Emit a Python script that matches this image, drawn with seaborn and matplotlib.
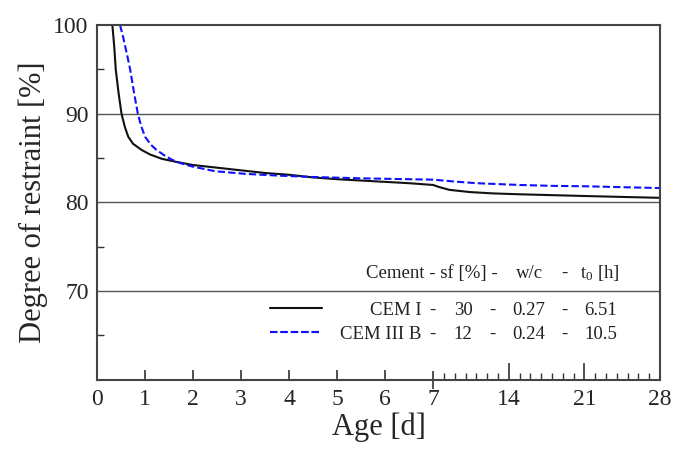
import numpy as np
import pandas as pd
import seaborn as sns
import matplotlib
matplotlib.use('Agg')
import matplotlib.pyplot as plt
from matplotlib.lines import Line2D

# data
age_cem1 = [0.32, 0.36, 0.39, 0.45, 0.51, 0.58, 0.65, 0.75, 0.93, 1.1, 1.35, 1.7,
            2.0, 2.5, 3.0, 3.5, 4.0, 4.5, 5.0, 5.5, 6.0, 6.5, 7.0, 7.6, 8.5, 10.4,
            12.5, 15.0, 18.0, 21.2, 24.5, 28.0]
restr_cem1 = [100, 97.5, 95, 92.3, 90, 88.5, 87.4, 86.6, 85.9, 85.4, 84.9, 84.5,
              84.2, 83.9, 83.6, 83.3, 83.1, 82.8, 82.6, 82.45, 82.3, 82.15, 81.95, 81.7, 81.4, 81.15,
              81.0, 80.9, 80.8, 80.7, 80.6, 80.5]
age_cem3 = [0.48, 0.55, 0.62, 0.69, 0.77, 0.85, 0.92, 1.0, 1.12, 1.24, 1.4, 1.56,
            1.75, 1.97, 2.46, 3.1, 3.8, 4.5, 5.5, 6.5, 7.0, 8.85, 11.0, 15.0, 18.0,
            21.2, 24.5, 28.0]
restr_cem3 = [100, 98.5, 96.8, 95, 92.4, 90, 88.6, 87.4, 86.5, 85.9, 85.3, 84.8,
              84.4, 84.05, 83.5, 83.2, 83.0, 82.85, 82.7, 82.6, 82.55, 82.35, 82.15, 81.95, 81.85,
              81.8, 81.7, 81.6]

cements = ['CEM I', 'CEM III B']
sf = ['30', '12']
wc = ['0.27', '0.24']
t0 = ['6.51', '10.5']

major_x = [0, 1, 2, 3, 4, 5, 6, 7, 14, 21, 28]
minor_x = [d for d in range(8, 28) if d not in (14, 21)]

df = pd.concat([
    pd.DataFrame({'age': age_cem1, 'restraint': restr_cem1, 'cement': 'CEM I'}),
    pd.DataFrame({'age': age_cem3, 'restraint': restr_cem3, 'cement': 'CEM III B'}),
])

sns.set_theme(style='white')
plt.rcParams['font.family'] = ['Liberation Serif', 'DejaVu Serif']
plt.rcParams['mathtext.fontset'] = 'custom'
plt.rcParams['mathtext.rm'] = 'Liberation Serif'

# compressed scale after day 7
k = 0.225


def fwd(x):
    x = np.asarray(x, dtype=float)
    return np.where(x <= 7, x, 7 + (x - 7) * k)


def inv(x):
    x = np.asarray(x, dtype=float)
    return np.where(x <= 7, x, 7 + (x - 7) / k)


fig = plt.figure(figsize=(6.75, 4.5), dpi=100)
ax = fig.add_axes([97 / 675, 1 - 379.5 / 450, 563 / 675, 354.5 / 450])
ax.set_xscale('function', functions=(fwd, inv))

colors = {'CEM I': '#111111', 'CEM III B': '#1010ff'}
sns.lineplot(data=df, x='age', y='restraint', hue='cement', style='cement',
             palette=colors, dashes={'CEM I': '', 'CEM III B': (3.5, 1.5)},
             linewidth=1.5, legend=False, ax=ax, sort=False)

ax.set_xlim(0, 28)
ax.set_ylim(60, 100)

for y in [70, 80, 90]:
    ax.axhline(y, color='#555555', lw=1.0, zorder=0)

ax.set_yticks([70, 80, 90, 100])
ax.set_yticks([65, 75, 85, 95], minor=True)
ax.set_xticks(major_x)
ax.set_xticks(minor_x, minor=True)
ax.set_xticklabels([str(v) for v in major_x])

ax.tick_params(axis='y', which='major', length=0, pad=6, labelsize=17)
ax.tick_params(axis='y', which='minor', direction='in', length=5, width=1, color='#333333', left=True)
ax.tick_params(axis='x', which='major', direction='in', length=7, width=1.2, color='#333333',
               pad=7, labelsize=17, bottom=True)
ax.tick_params(axis='x', which='minor', direction='in', length=5, width=1, color='#333333', bottom=True)

for tick, v in zip(ax.xaxis.get_major_ticks(), major_x):
    if v in (14, 21):
        tick.tick1line.set_markersize(12)
    if v == 7:
        tick.tick1line.set_marker('|')
        tick.tick1line.set_markersize(13)
    if v in (0, 28):
        tick.tick1line.set_visible(False)

for s in ax.spines.values():
    s.set_color('#444444')
    s.set_linewidth(1.5)

ax.set_xlabel('Age [d]', fontsize=22, labelpad=2)
ax.set_ylabel('Degree of restraint [%]', fontsize=22, labelpad=4)

# legend-like table
fs = 13.5
tkw = dict(transform=ax.transAxes, fontsize=fs, va='center', color='#222222')
ax.text(0.712, 0.300, 'Cement - sf [%] -', ha='right', **tkw)
ax.text(0.769, 0.300, 'w/c', ha='center', **tkw)
ax.text(0.831, 0.300, '-', ha='center', **tkw)
ax.text(0.858, 0.300, r'$\mathregular{t_0}$ [h]', ha='left', **tkw)

rows_y = [0.196, 0.128]
handles = [Line2D([], [], color=colors['CEM I'], lw=1.5),
           Line2D([], [], color=colors['CEM III B'], lw=1.5, dashes=(3.5, 1.5))]
for i, name in enumerate(cements):
    y = rows_y[i]
    leg = ax.legend([handles[i]], [''], loc='center left', bbox_to_anchor=(0.307, y),
                    frameon=False, borderpad=0, handletextpad=0, handlelength=2.77,
                    fontsize=fs, borderaxespad=0)
    ax.add_artist(leg)
    ax.text(0.577, y, name, ha='right', **tkw)
    ax.text(0.595, y, '-', ha='center', **tkw)
    ax.text(0.650, y, sf[i], ha='center', **tkw)
    ax.text(0.702, y, '-', ha='center', **tkw)
    ax.text(0.766, y, wc[i], ha='center', **tkw)
    ax.text(0.831, y, '-', ha='center', **tkw)
    ax.text(0.865, y, t0[i], ha='left', **tkw)

fig.savefig('out.png', dpi=100)
